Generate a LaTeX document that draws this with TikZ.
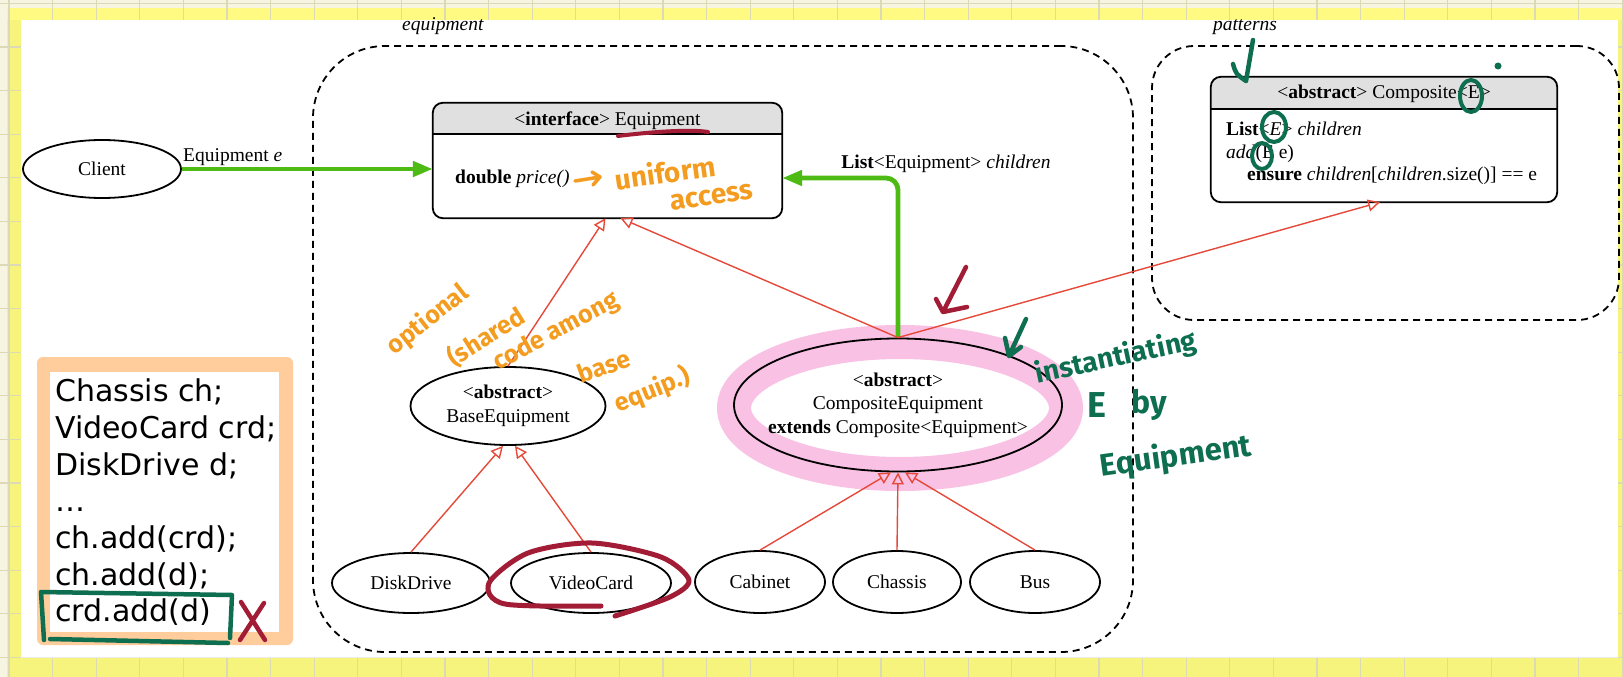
\documentclass[tikz,border=0pt]{standalone}
\usepackage{fontspec}
\setmainfont{Liberation Serif}
\newfontfamily\codefont{DejaVu Sans}
\newfontfamily\inkfont{Fira Sans}
\usetikzlibrary{arrows.meta,shapes.geometric,calc}

\definecolor{paper}{HTML}{F6F47C}
\definecolor{paperband}{HTML}{FFFB82}
\definecolor{cream}{HTML}{F7F5E2}
\definecolor{gridline}{HTML}{DCDAB4}
\definecolor{umlred}{HTML}{E5493A}
\definecolor{linkgreen}{HTML}{4DBB14}
\definecolor{hdrgray}{HTML}{E0E0E0}
\definecolor{peach}{HTML}{FFCD9B}
\definecolor{pinkhl}{HTML}{F9C1E4}
\definecolor{inkorange}{HTML}{F39C1F}
\definecolor{inkred}{HTML}{A21C35}
\definecolor{inkgreen}{HTML}{0E6E50}

\tikzset{
  uml/.style={font=\fontsize{19.5}{23.5}\selectfont},
  txt/.style={uml, inner sep=0pt},
  cls/.style={draw, ellipse, line width=1.8pt, fill=white, inner sep=0pt, uml, align=center},
  classbox/.style={fill=white, inner sep=0pt},
  boxline/.style={line width=1.8pt},
  pkg/.style={draw, dash pattern=on 7pt off 5pt, line width=1.8pt, inner sep=0pt},
  gen/.style={draw=umlred, line width=1.4pt, -{Triangle[open, length=12pt, width=12pt]}},
  link/.style={draw=linkgreen, line width=4.8pt, -{Triangle[length=20pt, width=15pt]}},
  codeline/.style={font=\codefont\fontsize{30}{36}\selectfont, inner sep=0pt, anchor=base west},
  inkstroke/.style={line width=4.5pt, line cap=round, line join=round},
  ink/.style={font=\inkfont\bfseries\fontsize{#1}{#1}\selectfont, inner sep=0pt},
  ink/.default=26
}

\begin{document}
\begin{tikzpicture}[x=1pt,y=-1pt]
\useasboundingbox (0,0) rectangle (1623,677);

% paper with grid, white sheet on top
\fill[paper] (0,0) rectangle (1623,677);
\fill[cream] (0,0) rectangle (1623,8);
\fill[cream] (0,0) rectangle (7,677);
\fill[paperband] (7,8) rectangle (1623,20);
\foreach \i in {0,...,37} \draw[gridline, line width=1.2pt] ({9+43.6*\i},0) -- ({9+43.6*\i},677);
\foreach \j in {0,...,15} \draw[gridline, line width=1.2pt] (0,{3.4+43.6*\j}) -- (1623,{3.4+43.6*\j});
\fill[white] (21,20) rectangle (1618,657);
\draw[black!8, line width=1.5pt] (21,657.5) -- (1618,657.5);

% highlighter ring around CompositeEquipment
\draw[pinkhl, line width=34pt] (900,408) ellipse [x radius=166pt, y radius=66pt];

% packages
\node[pkg, rounded corners=72pt, minimum width=820pt, minimum height=606pt] (pkgeq) at (723,349) {};
\node[pkg, rounded corners=42pt, minimum width=467pt, minimum height=274pt] (pkgpat) at (1385.5,183) {};
\node[txt, anchor=base] (eqlabel) at (443,31) {\textit{equipment}};
\node[txt, anchor=base] (patlabel) at (1245,31) {\textit{patterns}};

% client
\node[cls, minimum width=158pt, minimum height=58pt] (client) at (102,169) {Client};

% interface Equipment
\node[classbox, minimum width=349pt, minimum height=115pt] (iface) at (607.5,160.5) {};
\fill[hdrgray, rounded corners=10pt] (iface.north west) rectangle ($(iface.north east)+(0,31)$);
\fill[hdrgray] ($(iface.north west)+(0,20)$) rectangle ($(iface.north east)+(0,31)$);
\draw[boxline] ($(iface.north west)+(0,31)$) -- ($(iface.north east)+(0,31)$);
\draw[boxline, rounded corners=10pt] (iface.north west) rectangle (iface.south east);
\node[txt, anchor=base] (ifacehead) at (607.5,125) {<\textbf{interface}> Equipment};
\node[txt, anchor=base west] (ifaceop) at (455,183) {\textbf{double} \textit{price()}};

% abstract Composite<E>
\node[classbox, minimum width=346pt, minimum height=125pt] (cbox) at (1384,139.5) {};
\fill[hdrgray, rounded corners=10pt] (cbox.north west) rectangle ($(cbox.north east)+(0,32)$);
\fill[hdrgray] ($(cbox.north west)+(0,20)$) rectangle ($(cbox.north east)+(0,32)$);
\draw[boxline] ($(cbox.north west)+(0,32)$) -- ($(cbox.north east)+(0,32)$);
\draw[boxline, rounded corners=10pt] (cbox.north west) rectangle (cbox.south east);
\node[txt, anchor=base] (cboxhead) at (1384,99) {<\textbf{abstract}> Composite<E>};
\node[txt, anchor=base west] (cboxf1) at (1226,135) {\textbf{List}<\textit{E}> \textit{children}};
\node[txt, anchor=base west] (cboxf2) at (1226,158) {\textit{add}(E e)};
\node[txt, anchor=base west] (cboxf3) at (1247,180) {\textbf{ensure} \textit{children}[\textit{children}.size()] == e};

% equipment classes
\node[cls, minimum width=195pt, minimum height=78pt] (base) at (508,406) {<\textbf{abstract}>\\BaseEquipment};
\node[cls, fill=none, minimum width=328pt, minimum height=133pt] (comp) at (898,405) {};
\node[uml, align=center, inner sep=0pt] (comptext) at (comp.center) {<\textbf{abstract}>\\CompositeEquipment\\\textbf{extends} Composite<Equipment>};
\node[cls, minimum width=158pt, minimum height=60pt] (disk) at (411,583) {DiskDrive};
\node[cls, minimum width=160pt, minimum height=60pt] (video) at (591,583) {VideoCard};
\node[cls, minimum width=130pt, minimum height=62pt] (cab) at (760,582) {Cabinet};
\node[cls, minimum width=128pt, minimum height=62pt] (chas) at (897,582) {Chassis};
\node[cls, minimum width=130pt, minimum height=62pt] (bus) at (1035,582) {Bus};

% associations
\draw[link] (client.east) -- (client.east -| iface.west);
\node[txt, anchor=base west] (lblclient) at (183,161) {Equipment \textit{e}};
\draw[link, rounded corners=12pt] (comp.north) |- ($(iface.east)+(0,17.5)$);
\node[txt, anchor=base] (lbllist) at (946,168) {\textbf{List}<Equipment> \textit{children}};

% generalizations
\draw[gen] (base.north) -- ($(iface.south)+(-2,0)$);
\draw[gen] (comp.north) -- ($(iface.south)+(13,0)$);
\draw[gen] (comp.north) -- ($(cbox.south)+(-4,0)$);
\draw[gen] (disk.north) -- ($(base.south)+(-5,0)$);
\draw[gen] (video.north) -- ($(base.south)+(7,0)$);
\draw[gen] (cab.north) -- ($(comp.south)+(-7,0)$);
\draw[gen] (chas.north) -- (comp.south);
\draw[gen] (bus.north) -- ($(comp.south)+(7,0)$);

% client code snippet
\node[fill=peach, rounded corners=6pt, minimum width=256pt, minimum height=288pt, inner sep=0pt] (codebox) at (165,501) {};
\fill[white] (50,372) rectangle (279,632);
\node[codeline] (c1) at (55,401.7) {Chassis ch;};
\node[codeline] (c2) at (55,438.4) {VideoCard crd;};
\node[codeline] (c3) at (55,475.1) {DiskDrive d;};
\node[codeline] (c4) at (55,511.8) {…};
\node[codeline] (c5) at (55,548.5) {ch.add(crd);};
\node[codeline] (c6) at (55,585.2) {ch.add(d);};
\node[codeline] (c7) at (55,621.9) {crd.add(d)};

% orange notes
\node[ink=25, text=inkorange, rotate=38] (n1) at (428,320) {optional};
\node[ink=25, text=inkorange, rotate=32] (n2) at (486,337) {(shared};
\node[ink=25, text=inkorange, rotate=28] (n3) at (556,332) {code among};
\node[ink=25, text=inkorange, rotate=20] (n4) at (604,366) {base};
\node[ink=25, text=inkorange, rotate=22] (n5) at (652,390) {equip.)};
\node[ink=28, text=inkorange, rotate=8] (n6) at (665,172) {uniform};
\node[ink=28, text=inkorange, rotate=8] (n7) at (712,197) {access};
\draw[inkstroke, inkorange, line width=3.5pt] (575,181) -- (600,177) (592,172) -- (600,177) -- (593,185);

% green notes
\node[ink=28, text=inkgreen, rotate=12] (g1) at (1116,358) {instantiating};
\node[ink=36, text=inkgreen] (g2) at (1097,405) {E};
\node[ink=32, text=inkgreen] (g3) at (1149,405) {by};
\node[ink=31, text=inkgreen, rotate=8] (g4) at (1176,457) {Equipment};
\draw[inkstroke, inkgreen] (1026,319) -- (1009,356) (1005,338) -- (1009,356) -- (1021,347);
\draw[inkstroke, inkgreen] (1253,40) -- (1246,81) (1233,64) .. controls (1236,74) .. (1246,81);
\draw[inkstroke, inkgreen, line width=4pt] (1471,96) ellipse [x radius=11pt, y radius=16pt];
\draw[inkstroke, inkgreen, line width=4pt] (1274,127) ellipse [x radius=12pt, y radius=15pt];
\draw[inkstroke, inkgreen, line width=4pt] (1262,156) ellipse [x radius=10pt, y radius=13pt];
\fill[inkgreen] (1498,66) circle [radius=3.5pt];
\draw[inkstroke, inkgreen] (41,592) -- (232,595) -- (230,638) (228,643) -- (50,639) (41,592) -- (44,640);

% red notes
\draw[inkstroke, inkred, line width=4pt] (618,136) .. controls (650,132) and (690,129) .. (708,132);
\draw[inkstroke, inkred] (966,267) -- (943,312) (936,299) -- (943,312) -- (967,307);
\draw[inkstroke, inkred, line width=5pt] plot[smooth] coordinates {(601,606) (505,604) (489,583) (528,553) (592,543) (661,557) (689,580) (670,597) (615,616)};
\draw[inkstroke, inkred] (241,602) -- (265,640) (264,603) -- (240,640);
\end{tikzpicture}
\end{document}
